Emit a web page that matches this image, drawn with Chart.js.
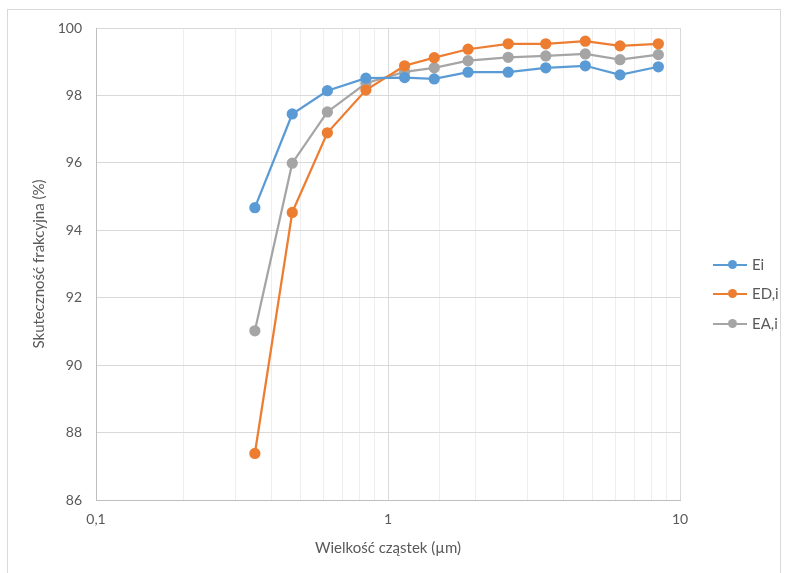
<!DOCTYPE html>
<html>
<head>
<meta charset="utf-8">
<script src="https://cdn.jsdelivr.net/npm/chart.js@4.4.0/dist/chart.umd.min.js"></script>
<style>
  body { margin: 0; background: #fff; }
  #wrap { position: relative; width: 788px; height: 573px; }
  .leg { position: absolute; left: 713px; height: 20px; font: 15px Lato, "Open Sans", sans-serif; color: #595959; }
  .leg .ln { position: absolute; left: 0; top: 9px; width: 34px; height: 2px; }
  .leg .pt { position: absolute; left: 15px; top: 5px; width: 9px; height: 9px; border-radius: 50%; }
  .leg .tx { position: absolute; left: 39px; top: 0px; white-space: nowrap; }
</style>
</head>
<body>
<div id="wrap">
  <canvas id="chart" width="788" height="573"></canvas>
  <div id="legend"></div>
</div>
<script>
// particle size (um)
const sizes = [0.35, 0.47, 0.62, 0.84, 1.14, 1.44, 1.88, 2.58, 3.47, 4.74, 6.23, 8.43];
const ei  = [94.67, 97.45, 98.14, 98.51, 98.53, 98.49, 98.69, 98.69, 98.82, 98.88, 98.61, 98.85];
const edi = [87.38, 94.53, 96.89, 98.16, 98.88, 99.12, 99.37, 99.53, 99.53, 99.61, 99.47, 99.53];
const eai = [91.02, 95.99, 97.51, 98.36, 98.70, 98.82, 99.03, 99.13, 99.17, 99.23, 99.06, 99.21];
const seriesNames = ['Ei', 'ED,i', 'EA,i'];
const seriesColors = ['#5b9bd5', '#ed7d31', '#a5a5a5'];
const xTickLabels = { 0.1: '0,1', 1: '1', 10: '10' };

const textColor = '#595959';
const fontFamily = 'Lato, "Open Sans", sans-serif';

function makeSet(i, ys) {
  return {
    label: seriesNames[i],
    data: sizes.map((x, k) => ({ x: x, y: ys[k] })),
    borderColor: seriesColors[i],
    backgroundColor: seriesColors[i],
    borderWidth: 2.25,
    pointRadius: 4.5,
    pointHoverRadius: 4.5,
    tension: 0,
    fill: false
  };
}

// light frame round the whole chart
const frame = {
  id: 'frame',
  beforeDraw(chart) {
    const c = chart.ctx;
    c.save();
    c.strokeStyle = '#d9d9d9';
    c.lineWidth = 1;
    c.strokeRect(7.5, 9.5, 773, 600);
    c.restore();
  }
};

function isDecade(v) {
  const l = Math.log10(v);
  return Math.abs(l - Math.round(l)) < 1e-6;
}

new Chart(document.getElementById('chart'), {
  type: 'line',
  data: { datasets: [makeSet(0, ei), makeSet(1, edi), makeSet(2, eai)] },
  plugins: [frame],
  options: {
    responsive: false,
    animation: false,
    layout: { padding: { left: 0, top: 28, right: 108, bottom: 0 } },
    plugins: { legend: { display: false }, tooltip: { enabled: false } },
    scales: {
      x: {
        type: 'logarithmic',
        min: 0.1,
        max: 10,
        afterFit: s => { s.height = 73; },
        border: { color: '#bfbfbf' },
        grid: {
          drawTicks: false,
          color: ctx => isDecade(ctx.tick.value) ? '#d9d9d9' : '#eeeeee'
        },
        ticks: {
          autoSkip: false,
          maxRotation: 0,
          padding: 11,
          color: textColor,
          font: { family: fontFamily, size: 14 },
          callback: v => xTickLabels[v] !== undefined ? xTickLabels[v] : ''
        },
        title: {
          display: true,
          text: 'Wielkość cząstek (µm)',
          color: textColor,
          font: { family: fontFamily, size: 15 },
          padding: { top: 0, bottom: 16 }
        }
      },
      y: {
        min: 86,
        max: 100,
        afterFit: s => { s.width = 96; },
        border: { color: '#bfbfbf' },
        grid: { drawTicks: false, color: '#d9d9d9' },
        ticks: {
          stepSize: 2,
          padding: 14,
          color: textColor,
          font: { family: fontFamily, size: 14 }
        },
        title: {
          display: true,
          text: 'Skuteczność frakcyjna (%)',
          color: textColor,
          font: { family: fontFamily, size: 15 },
          padding: { top: 30, bottom: 0 }
        }
      }
    }
  }
});

// legend: line with a dot, like the original
const legendTops = [255, 284, 314];
const legend = document.getElementById('legend');
seriesNames.forEach((name, i) => {
  const d = document.createElement('div');
  d.className = 'leg';
  d.style.top = legendTops[i] + 'px';
  d.innerHTML = `<div class="ln" style="background:${seriesColors[i]}"></div>` +
    `<div class="pt" style="background:${seriesColors[i]}"></div>` +
    `<div class="tx">${name}</div>`;
  legend.appendChild(d);
});
</script>
</body>
</html>
